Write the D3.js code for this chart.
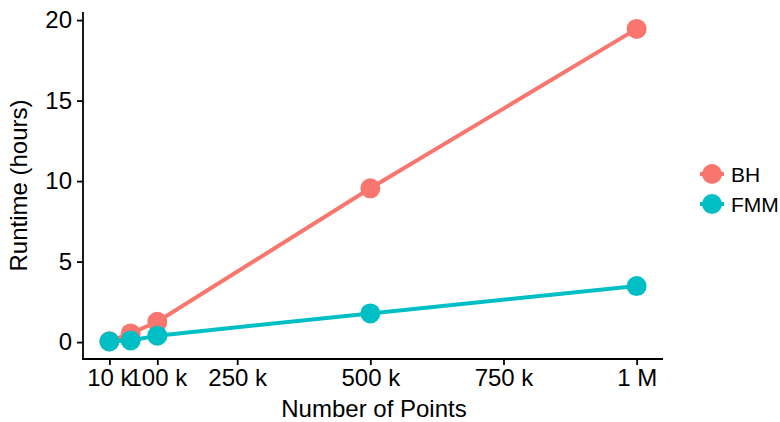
<!DOCTYPE html>
<html>
<head>
<meta charset="utf-8">
<script src="https://cdn.jsdelivr.net/npm/d3@7"></script>
<style>
  html, body { margin: 0; padding: 0; background: #fff; }
  svg { display: block; font-family: "Liberation Sans", Arial, Helvetica, sans-serif; }
</style>
</head>
<body>
<svg id="chart" width="780" height="422"></svg>
<script>
// ---- data ----
const points = [10000, 50000, 100000, 500000, 1000000];
const seriesNames = ["BH", "FMM"];
const bhHours = [0.05, 0.54, 1.26, 9.55, 19.45];
const fmmHours = [0.04, 0.1, 0.4, 1.78, 3.48];
const seriesColors = ["#F8766D", "#00BFC4"];
const xTickValues = [10000, 100000, 250000, 500000, 750000, 1000000];
const xTickLabels = ["10 k", "100 k", "250 k", "500 k", "750 k", "1 M"];
const yTickValues = [0, 5, 10, 15, 20];

const series = [
  { name: seriesNames[0], color: seriesColors[0], values: bhHours },
  { name: seriesNames[1], color: seriesColors[1], values: fmmHours }
];

const svg = d3.select("#chart");
const pLeft = 83, pRight = 663, pTop = 12, pBottom = 359;

const x = d3.scaleLinear().domain([-39500, 1049500]).range([pLeft, pRight]);
const y = d3.scaleLinear().domain([-1.05, 20.5]).range([pBottom, pTop]);

const fontSize = 24;

// axes
const xAxis = d3.axisBottom(x).tickValues(xTickValues)
  .tickFormat((d, i) => xTickLabels[i]).tickSizeOuter(0).tickSize(6).tickPadding(4);
const yAxis = d3.axisLeft(y).tickValues(yTickValues).tickSizeOuter(0).tickSize(6).tickPadding(5);

const gx = svg.append("g").attr("transform", `translate(0,${pBottom})`).call(xAxis);
const gy = svg.append("g").attr("transform", `translate(${pLeft},0)`).call(yAxis);

[gx, gy].forEach(g => {
  g.select(".domain").attr("stroke", "#000").attr("stroke-width", 1.8);
  g.selectAll(".tick line").attr("stroke", "#000").attr("stroke-width", 1.8);
  g.selectAll(".tick text").attr("fill", "#000").attr("font-size", fontSize)
    .attr("font-family", "Liberation Sans, Arial, sans-serif");
});
gx.select(".domain").attr("d", `M${pLeft - 0.9},0H${pRight}`);
gy.select(".domain").attr("d", `M0,${pTop}V${pBottom + 0.9}`);

// axis titles
svg.append("text").attr("x", (pLeft + pRight) / 2 + 1).attr("y", 417)
  .attr("text-anchor", "middle").attr("font-size", fontSize).attr("fill", "#000")
  .text("Number of Points");
svg.append("text").attr("transform", `translate(27,${(pTop + pBottom) / 2}) rotate(-90)`)
  .attr("text-anchor", "middle").attr("font-size", fontSize).attr("fill", "#000")
  .text("Runtime (hours)");

// lines and points
const line = d3.line().x((d, i) => x(points[i])).y(d => y(d));
series.forEach(s => {
  svg.append("path").datum(s.values).attr("d", line)
    .attr("fill", "none").attr("stroke", s.color).attr("stroke-width", 4);
});
series.forEach(s => {
  svg.append("g").selectAll("circle").data(s.values).join("circle")
    .attr("cx", (d, i) => x(points[i])).attr("cy", d => y(d)).attr("r", 10)
    .attr("fill", s.color);
});

// legend
const legend = svg.append("g").attr("transform", "translate(712,174)");
series.forEach((s, i) => {
  const g = legend.append("g").attr("transform", `translate(0,${i * 30})`);
  g.append("line").attr("x1", -12).attr("x2", 12).attr("y1", 0).attr("y2", 0)
    .attr("stroke", s.color).attr("stroke-width", 4);
  g.append("circle").attr("r", 10).attr("fill", s.color);
  g.append("text").attr("x", 19).attr("y", 7.5).attr("font-size", 21).attr("fill", "#000").text(s.name);
});
</script>
</body>
</html>
